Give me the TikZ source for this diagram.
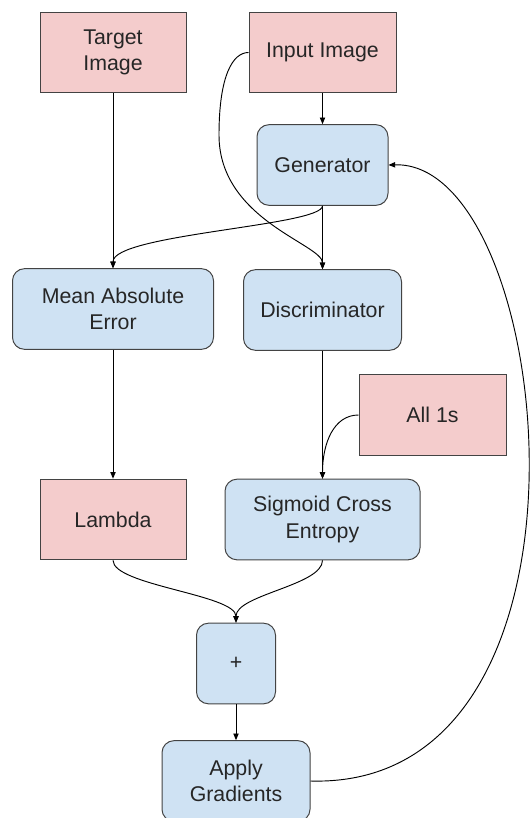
\documentclass[tikz,border=0pt]{standalone}
\usepackage{fontspec}
\setmainfont{Liberation Sans}
\usetikzlibrary{
	arrows.meta
}
\definecolor{inpink}{HTML}{F4CCCC}
\definecolor{opblue}{HTML}{CFE2F3}
\definecolor{edgegray}{HTML}{434343}

\begin{document}
\begin{tikzpicture}[
		x=0.75pt, y=-0.75pt,
		box/.style={draw=edgegray, line width=0.75pt, align=center, inner sep=2pt, minimum height=60.5pt, font=\fontsize{16}{19.8}\selectfont, text=black!85},
		data/.style={box, fill=inpink},
		op/.style={box, fill=opblue, rounded corners=9pt},
		arrow/.style={-{Triangle[length=5pt,width=4pt]}, line width=0.7pt}
		]
		
		\useasboundingbox (0,0) rectangle (530,818);
		
		% Nodes
		\node[data, minimum width=109.5pt] (target) at (113,52.5) {Target\\Image};
		\node[data, minimum width=110.25pt] (input) at (322.5,52.5) {Input Image};
		\node[op, minimum width=98.25pt] (gen) at (322.5,165) {Generator};
		\node[op, minimum width=150.75pt] (mae) at (113,309) {Mean Absolute\\Error};
		\node[op, minimum width=118.5pt] (disc) at (322.5,310) {Discriminator};
		\node[data, minimum width=110.25pt] (ones) at (432.5,415) {All 1s};
		\node[data, minimum width=109.5pt] (lambda) at (113,519.5) {Lambda};
		\node[op, minimum width=146.25pt] (sce) at (322.5,519.5) {Sigmoid Cross\\Entropy};
		\node[op, minimum width=59.25pt] (plus) at (236,663.5) {+};
		\node[op, minimum width=111pt] (apply) at (236,781) {Apply\\Gradients};
		
		\coordinate (dip) at (219,135);
		
		% Arrows
		\draw[arrow] (target) -- (mae);
		\draw[arrow] (input) -- (gen);
		\draw[arrow] (gen) -- (disc);
		\draw[arrow] (gen.south) .. controls +(0,20) and +(0,-34) .. (mae.north);
		\draw[arrow] (input.west) .. controls +(-15.5,0) and +(0,-60) .. (dip) .. controls +(0,85) and +(0,-25) .. (disc.north);
		\draw[arrow] (mae) -- (lambda);
		\draw[arrow] (disc) -- (sce);
		\draw[arrow] (ones.west) .. controls +(-25,0) and +(0,-35) .. (sce.north);
		\draw[arrow] (lambda.south) .. controls +(0,25) and +(0,-28) .. (plus.north);
		\draw[arrow] (sce.south) .. controls +(0,25) and +(0,-28) .. (plus.north);
		\draw[arrow] (plus) -- (apply);
		\draw[arrow] (apply.east) .. controls +(310,9) and +(167,-5) .. (gen.east);
		
	\end{tikzpicture}
\end{document}
